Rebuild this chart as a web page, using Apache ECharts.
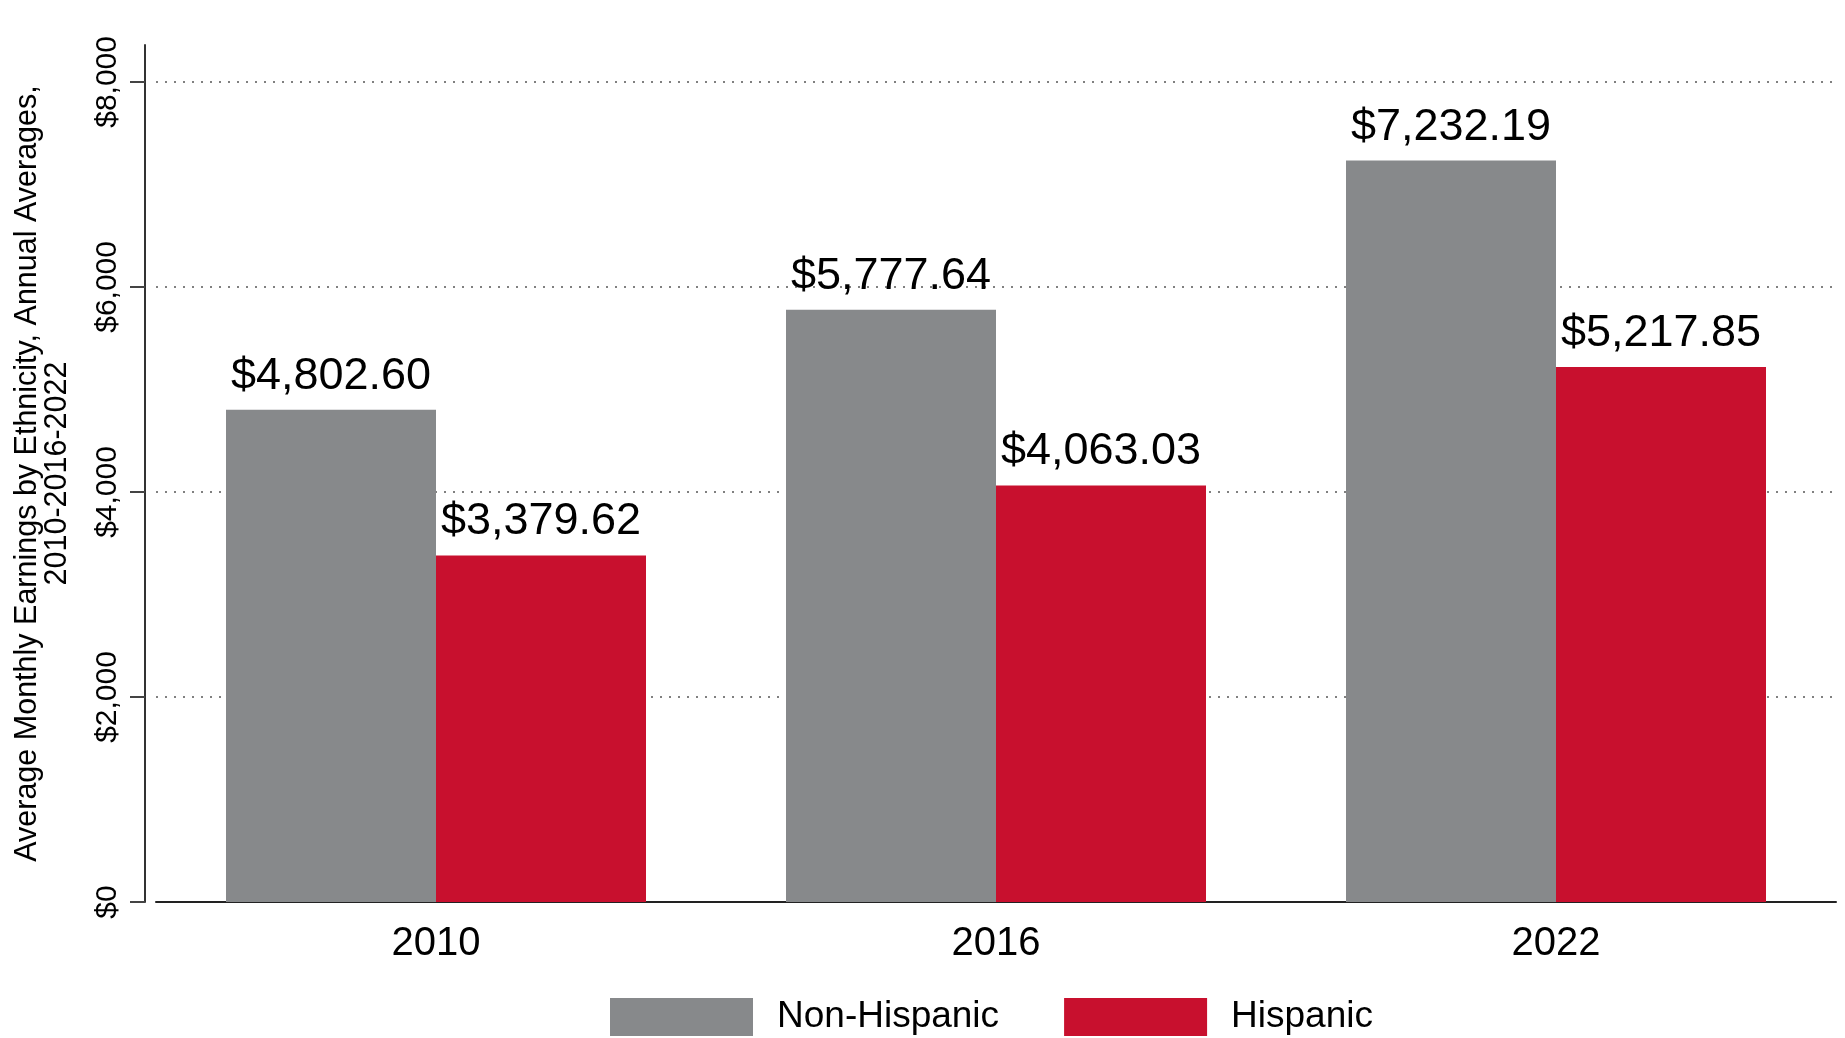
<!DOCTYPE html>
<html>
<head>
<meta charset="utf-8">
<title>Average Monthly Earnings by Ethnicity</title>
<script src="https://cdn.jsdelivr.net/npm/echarts@6/dist/echarts.min.js"></script>
<style>
    html, body {
        margin: 0;
        padding: 0;
        background: #ffffff;
    }
    #chart {
        width: 1845px;
        height: 1038px;
    }
</style>
</head>
<body>
<div id="chart"></div>
<script>
    // values
    const years = ['2010', '2016', '2022'];
    const nonHispanic = [4802.60, 5777.64, 7232.19];
    const hispanic = [3379.62, 4063.03, 5217.85];
    const yTicks = [0, 2000, 4000, 6000, 8000];

    const FONT = '"Liberation Sans", Arial, sans-serif';

    function money(v) {
        return '$' + v.toLocaleString('en-US', {minimumFractionDigits: 2, maximumFractionDigits: 2});
    }

    function barLabel() {
        return {
            show: true,
            position: 'top',
            distance: 11,
            color: '#000',
            fontFamily: FONT,
            fontSize: 45,
            formatter: function (p) { return money(p.value); }
        };
    }

    const chart = echarts.init(document.getElementById('chart'));

    const option = {
        animation: false,
        backgroundColor: '#ffffff',
        textStyle: {fontFamily: FONT},
        grid: {
            left: 156,
            right: 9,
            top: 45,
            bottom: 136,
            containLabel: false
        },
        legend: {
            data: ['Non-Hispanic', 'Hispanic'],
            left: 605,
            top: 993,
            icon: 'rect',
            itemWidth: 143,
            itemHeight: 38,
            itemGap: 65,
            textStyle: {
                fontFamily: FONT,
                fontSize: 37,
                color: '#000',
                padding: [0, 0, 0, 19]
            }
        },
        xAxis: {
            type: 'category',
            data: years,
            axisLine: {lineStyle: {color: '#222', width: 2}},
            axisTick: {show: false},
            axisLabel: {
                color: '#000',
                fontFamily: FONT,
                fontSize: 40,
                margin: 22
            }
        },
        yAxis: {
            type: 'value',
            min: 0,
            max: 8360,
            offset: 11,
            name: 'Average Monthly Earnings by Ethnicity, Annual Averages,\n2010-2016-2022',
            nameLocation: 'middle',
            nameGap: 72,
            nameTextStyle: {
                color: '#000',
                fontFamily: FONT,
                fontSize: 30.5,
                lineHeight: 30,
                align: 'center'
            },
            axisLine: {show: true, lineStyle: {color: '#333', width: 2}},
            axisTick: {
                show: true,
                length: 15,
                customValues: yTicks,
                lineStyle: {color: '#444', width: 2}
            },
            axisLabel: {
                customValues: yTicks,
                rotate: 90,
                margin: 22,
                color: '#000',
                fontFamily: FONT,
                fontSize: 30,
                formatter: function (v) { return '$' + v.toLocaleString('en-US'); }
            },
            splitLine: {
                show: true,
                lineStyle: {color: '#808080', width: 2, type: [2, 7]}
            }
        },
        series: [
            {
                name: 'Non-Hispanic',
                type: 'bar',
                data: nonHispanic,
                barGap: '0%',
                barCategoryGap: '25%',
                itemStyle: {color: '#87898b'},
                label: barLabel()
            },
            {
                name: 'Hispanic',
                type: 'bar',
                data: hispanic,
                barGap: '0%',
                barCategoryGap: '25%',
                itemStyle: {color: '#c8102e'},
                label: barLabel()
            }
        ]
    };

    chart.setOption(option);
</script>
</body>
</html>
